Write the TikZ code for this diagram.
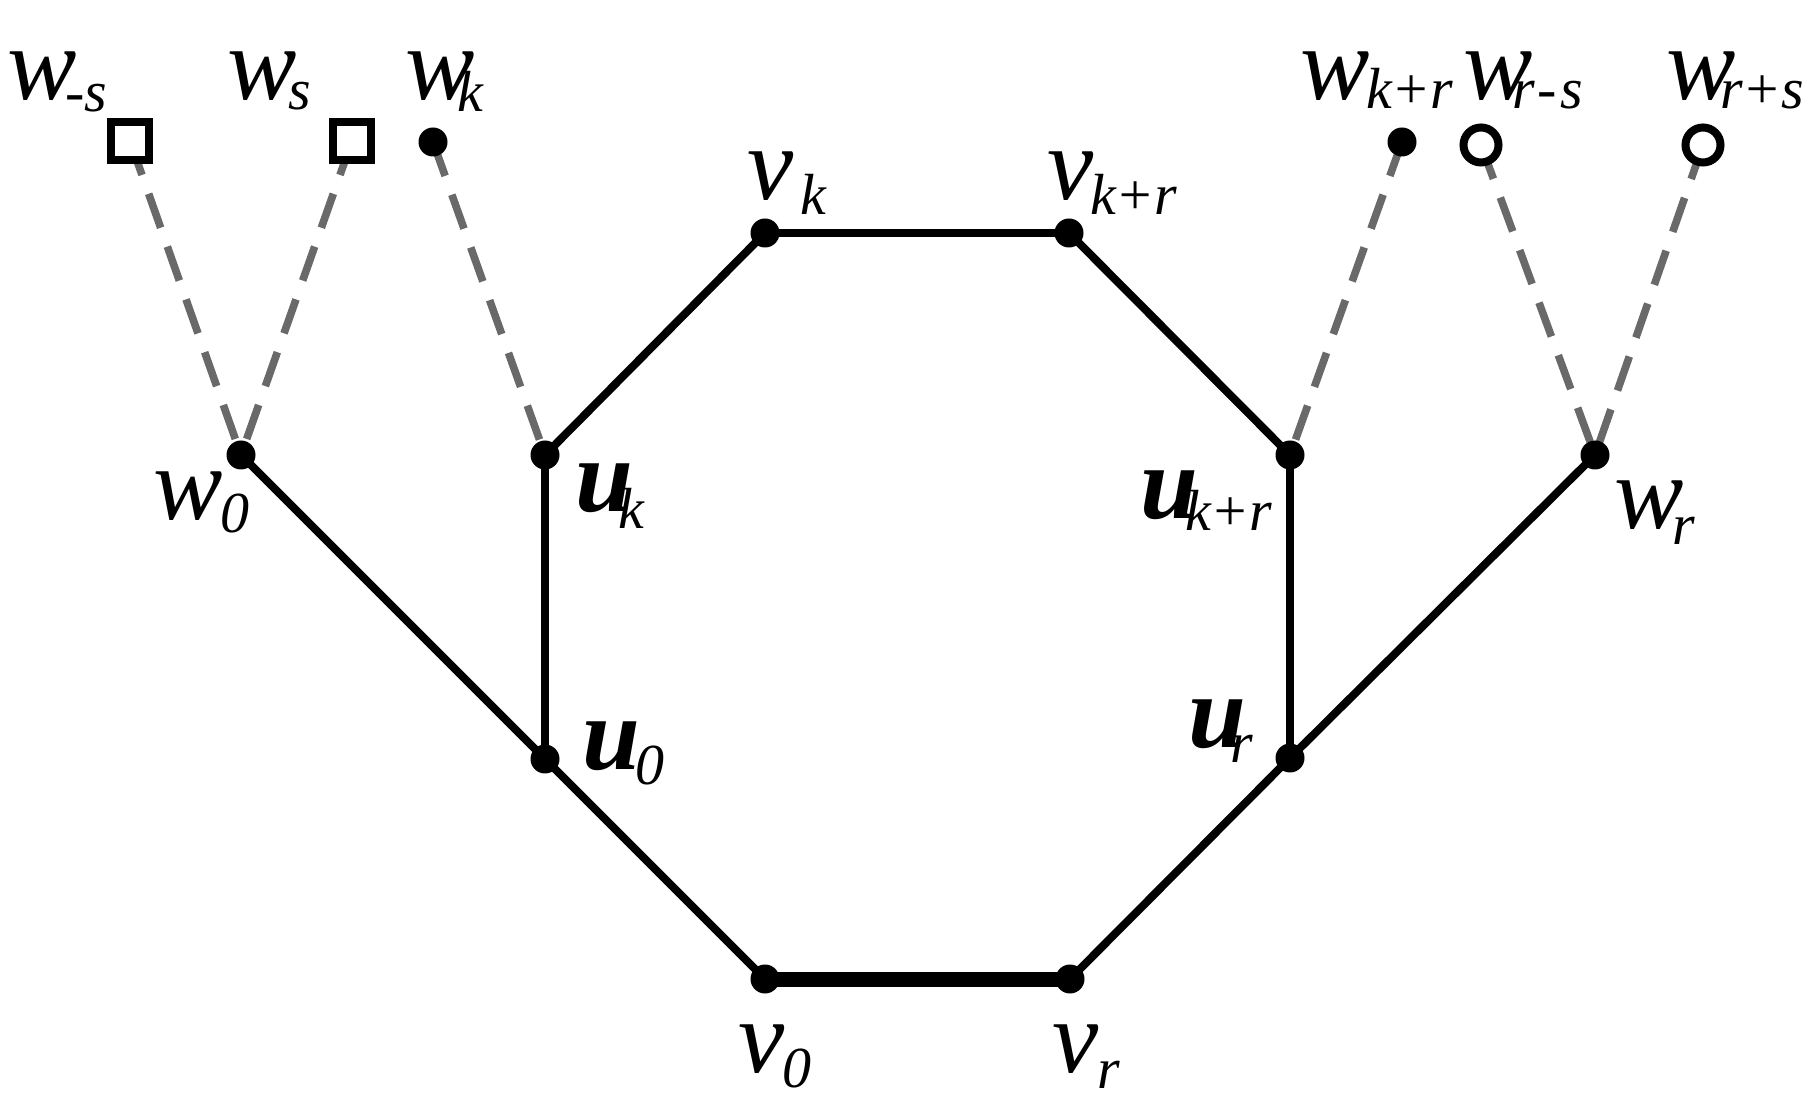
\documentclass[tikz,border=0pt]{standalone}
\usepackage{fontspec}
\setmainfont{Liberation Serif}[ItalicFont={Liberation Serif Italic},BoldItalicFont={Liberation Serif Bold Italic}]
\definecolor{dashgray}{RGB}{105,105,105}
\newcommand\mainf{\fontsize{52}{52}\selectfont\itshape}
\newcommand\subf{\fontsize{29}{29}\selectfont\itshape}
\newcommand\mylab[4]{\mbox{\rlap{\mainf #1}\kern#3pt\raisebox{-#4pt}{\subf #2}}}
\begin{document}
\begin{tikzpicture}[x=0.5pt,y=-0.5pt,
  dot/.style={circle,fill=black,inner sep=0pt,minimum size=14.5pt},
  sqnode/.style={rectangle,draw=black,fill=white,line width=4pt,inner sep=0pt,minimum size=19pt},
  ringnode/.style={circle,draw=black,fill=white,line width=4pt,inner sep=0pt,minimum size=17.5pt},
  edgeline/.style={line width=4pt},
  heavyline/.style={line width=7.5pt},
  dashedge/.style={line width=3.8pt,draw=dashgray,dash pattern=on 18pt off 10pt},
  lbl/.style={anchor=base west,inner sep=0pt,outer sep=0pt}]
\useasboundingbox (0,0) rectangle (1806,1106);

% vertex positions
\coordinate (pwms) at (130,141);
\coordinate (pws) at (352,141);
\coordinate (pwk) at (433,142);
\coordinate (pwkr) at (1402,142);
\coordinate (pwrms) at (1481,145);
\coordinate (pwrps) at (1703,145);
\coordinate (pvk) at (765,233);
\coordinate (pvkr) at (1069,233);
\coordinate (pw0) at (241,455);
\coordinate (puk) at (545,455);
\coordinate (pukr) at (1290,455);
\coordinate (pwr) at (1595,455);
\coordinate (pu0) at (545,759);
\coordinate (pur) at (1290,758);
\coordinate (pv0) at (765,979);
\coordinate (pvr) at (1070,979);

% dashed connectors (beneath)
\draw[dashedge] (pwms) -- (pw0);
\draw[dashedge] (pws) -- (pw0);
\draw[dashedge] (pwk) -- (puk);
\draw[dashedge] (pwkr) -- (pukr);
\draw[dashedge] (pwrms) -- (pwr);
\draw[dashedge] (pwrps) -- (pwr);

% solid connectors
\draw[edgeline] (pw0) -- (pu0);
\draw[edgeline] (pu0) -- (pv0);
\draw[heavyline] (pv0) -- (pvr);
\draw[edgeline] (pvr) -- (pur);
\draw[edgeline] (pur) -- (pwr);
\draw[edgeline] (pu0) -- (puk);
\draw[edgeline] (puk) -- (pvk);
\draw[edgeline] (pvk) -- (pvkr);
\draw[edgeline] (pvkr) -- (pukr);
\draw[edgeline] (pukr) -- (pur);

% vertices
\node[sqnode] (wms) at (pwms) {};
\node[sqnode] (ws) at (pws) {};
\node[dot] (wk) at (pwk) {};
\node[dot] (wkr) at (pwkr) {};
\node[ringnode] (wrms) at (pwrms) {};
\node[ringnode] (wrps) at (pwrps) {};
\node[dot] (vk) at (pvk) {};
\node[dot] (vkr) at (pvkr) {};
\node[dot] (w0) at (pw0) {};
\node[dot] (uk) at (puk) {};
\node[dot] (ukr) at (pukr) {};
\node[dot] (wr) at (pwr) {};
\node[dot] (u0) at (pu0) {};
\node[dot] (ur) at (pur) {};
\node[dot] (v0) at (pv0) {};
\node[dot] (vr) at (pvr) {};

% labels
\node[lbl] (Lwms) at (8,100) {\mylab{w}{-s}{28.5}{6}};
\node[lbl] (Lws) at (227,100) {\mylab{w}{s}{30.5}{5}};
\node[lbl] (Lwk) at (405,100) {\mylab{w}{k}{26}{6}};
\node[lbl] (Lwkr) at (1300,100) {\mylab{w}{k+r}{33}{4.5}};
\node[lbl] (Lwrms) at (1463,100) {\mylab{w}{r\kern1.5pt-\kern2pt s}{24.5}{4.5}};
\node[lbl] (Lwrps) at (1666,100) {\mylab{w}{r+s}{27}{4.5}};
\node[lbl] (Lvk) at (747,200) {\mylab{v}{k}{26.5}{7.5}};
\node[lbl] (Lvkr) at (1047,200) {\mylab{v}{k+r}{21.5}{7.5}};
\node[lbl] (Lw0) at (153,520) {\mylab{w}{0}{33.5}{6.5}};
\node[lbl] (Luk) at (575,512) {\mylab{\bfseries u}{k}{21.5}{8.5}};
\node[lbl] (Lukr) at (1140,519) {\mylab{\bfseries u}{k+r}{22.5}{6}};
\node[lbl] (Lwr) at (1614,529) {\mylab{w}{r}{29}{8}};
\node[lbl] (Lu0) at (582,770) {\mylab{\bfseries u}{0}{26.5}{7.5}};
\node[lbl] (Lur) at (1188,748) {\mylab{\bfseries u}{r}{21}{7.5}};
\node[lbl] (Lv0) at (738,1072) {\mylab{v}{0}{22}{7.5}};
\node[lbl] (Lvr) at (1052,1072) {\mylab{v}{r}{22.5}{8}};
\end{tikzpicture}
\end{document}
